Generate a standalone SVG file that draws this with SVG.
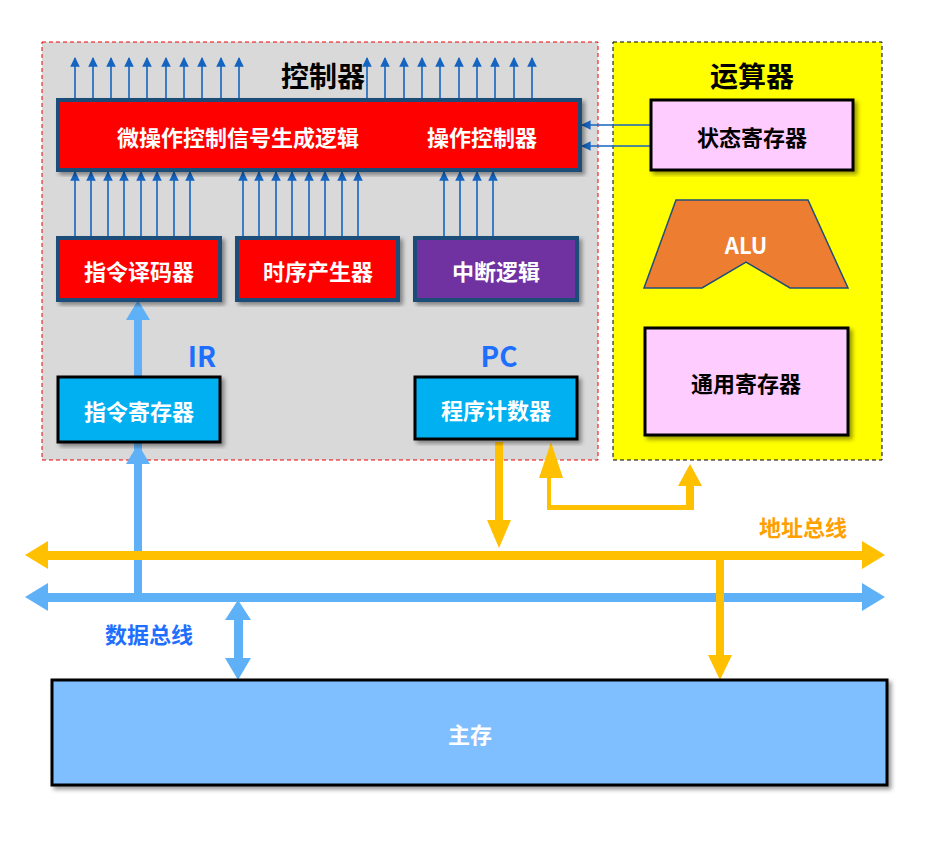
<svg xmlns="http://www.w3.org/2000/svg" width="936" height="844" viewBox="0 0 936 844">
<defs>
<marker id="sa" viewBox="0 0 10 10" refX="9" refY="5" markerWidth="6" markerHeight="6" orient="auto"><path d="M0,0L10,5L0,10z" fill="#1565c0"/></marker>
<filter id="sh"><feDropShadow dx="3" dy="3" stdDeviation="2" flood-opacity="0.4"/></filter>
</defs>
<style>
text{font-family:"Noto Sans CJK SC","Liberation Sans",sans-serif;font-weight:bold;text-anchor:middle;dominant-baseline:central}
.w{fill:#fff;font-size:22px}
.k{fill:#000;font-size:22px}
.sig{stroke:#1565c0;stroke-width:1.6;marker-end:url(#sa)}
.bb{stroke:#1f4e79;stroke-width:4;filter:url(#sh)}
.bk{stroke:#000;stroke-width:3;filter:url(#sh)}
</style>
<rect width="936" height="844" fill="#fff"/>
<g id="controller"><rect x="42" y="42" width="556" height="418" fill="#d9d9d9" stroke="#e00" stroke-dasharray="4,3"/><text x="323" y="75" style="font-size:28px">控制器</text></g>
<g id="alu-unit"><rect x="613" y="42" width="269" height="418" fill="#ffff00" stroke="#000" stroke-dasharray="4,3"/><text x="752" y="75" style="font-size:28px">运算器</text></g>
<g id="connectors">
<g class="sig">
<line x1="75" y1="100" x2="75" y2="58"/><line x1="93" y1="100" x2="93" y2="58"/><line x1="111" y1="100" x2="111" y2="58"/><line x1="129" y1="100" x2="129" y2="58"/><line x1="147" y1="100" x2="147" y2="58"/><line x1="166" y1="100" x2="166" y2="58"/><line x1="184" y1="100" x2="184" y2="58"/><line x1="202" y1="100" x2="202" y2="58"/><line x1="221" y1="100" x2="221" y2="58"/><line x1="239" y1="100" x2="239" y2="58"/>
<line x1="367" y1="100" x2="367" y2="58"/><line x1="385" y1="100" x2="385" y2="58"/><line x1="404" y1="100" x2="404" y2="58"/><line x1="422" y1="100" x2="422" y2="58"/><line x1="440" y1="100" x2="440" y2="58"/><line x1="459" y1="100" x2="459" y2="58"/><line x1="477" y1="100" x2="477" y2="58"/><line x1="495" y1="100" x2="495" y2="58"/><line x1="514" y1="100" x2="514" y2="58"/><line x1="532" y1="100" x2="532" y2="58"/>
<line x1="75" y1="238" x2="75" y2="172"/><line x1="91" y1="238" x2="91" y2="172"/><line x1="108" y1="238" x2="108" y2="172"/><line x1="124" y1="238" x2="124" y2="172"/><line x1="141" y1="238" x2="141" y2="172"/><line x1="157" y1="238" x2="157" y2="172"/><line x1="174" y1="238" x2="174" y2="172"/><line x1="190" y1="238" x2="190" y2="172"/>
<line x1="243" y1="238" x2="243" y2="172"/><line x1="259" y1="238" x2="259" y2="172"/><line x1="276" y1="238" x2="276" y2="172"/><line x1="292" y1="238" x2="292" y2="172"/><line x1="309" y1="238" x2="309" y2="172"/><line x1="325" y1="238" x2="325" y2="172"/><line x1="342" y1="238" x2="342" y2="172"/><line x1="358" y1="238" x2="358" y2="172"/>
<line x1="444" y1="238" x2="444" y2="172"/><line x1="460" y1="238" x2="460" y2="172"/><line x1="477" y1="238" x2="477" y2="172"/><line x1="493" y1="238" x2="493" y2="172"/>
<line x1="651" y1="125" x2="582" y2="125"/><line x1="651" y1="146" x2="582" y2="146"/>
</g>
<g fill="#5eb1f7">
<rect x="134" y="318" width="8" height="282"/><polygon points="138,300 150,320 126,320"/>
<rect x="134" y="462" width="8" height="20"/><polygon points="138,444 150,464 126,464"/>
<rect x="38" y="593" width="834" height="9"/><polygon points="25,597 48,583 48,611"/><polygon points="885,597 862,583 862,611"/>
<rect x="234" y="615" width="9" height="50"/><polygon points="238,600 251,620 225,620"/><polygon points="238,680 251,658 225,658"/>
</g>
<g fill="#ffc000">
<rect x="38" y="551" width="834" height="9"/><polygon points="25,555 48,541 48,569"/><polygon points="885,555 862,541 862,569"/>
<rect x="495" y="442" width="8" height="80"/><polygon points="499,548 487,520 511,520"/>
<polygon points="547,478 551,478 551,505 686,505 686,482 694,482 694,510 547,510"/>
<polygon points="551,442 563,478 539,478"/><polygon points="690,464 702,486 678,486"/>
<rect x="716" y="558" width="8" height="100"/><polygon points="720,680 708,655 732,655"/>
</g>
</g>
<g id="micro"><rect x="58" y="100" width="522" height="70" fill="#ff0000" class="bb"/><text class="w" x="238" y="136">微操作控制信号生成逻辑</text><text class="w" x="482" y="136">操作控制器</text></g>
<g id="decoder"><rect x="58" y="238" width="162" height="62" fill="#ff0000" class="bb"/><text class="w" x="139" y="270">指令译码器</text></g>
<g id="timing"><rect x="237" y="238" width="161" height="62" fill="#ff0000" class="bb"/><text class="w" x="318" y="270">时序产生器</text></g>
<g id="interrupt"><rect x="415" y="238" width="162" height="62" fill="#7030a0" class="bb"/><text class="w" x="496" y="270">中断逻辑</text></g>
<g id="ir"><rect x="58" y="377" width="162" height="65" fill="#00b0f0" class="bk"/><text class="w" x="139" y="410">指令寄存器</text><text x="202" y="355" style="font-size:28px;fill:#1f6fff">IR</text></g>
<g id="pc"><rect x="415" y="377" width="162" height="62" fill="#00b0f0" class="bk"/><text class="w" x="496" y="409">程序计数器</text><text x="499" y="355" style="font-size:28px;fill:#1f6fff">PC</text></g>
<g id="status"><rect x="651" y="100" width="202" height="70" fill="#ffccff" class="bk"/><text class="k" x="752" y="136">状态寄存器</text></g>
<g id="alu"><polygon points="676,200 808,200 848,288 790,288 746,262 702,288 644,288" fill="#ed7d31" stroke="#1f4e79" stroke-width="1.5"/><text class="w" x="746" y="244">ALU</text></g>
<g id="gpr"><rect x="645" y="328" width="203" height="107" fill="#ffccff" class="bk"/><text class="k" x="746" y="382">通用寄存器</text></g>
<g id="memory"><rect x="52" y="680" width="835" height="105" fill="#7fbfff" class="bk"/><text class="w" x="470" y="733">主存</text></g>
<text x="803" y="526" style="font-size:22px;fill:#ffa000">地址总线</text>
<text x="149" y="633" style="font-size:22px;fill:#1f6fff">数据总线</text>
</svg>
